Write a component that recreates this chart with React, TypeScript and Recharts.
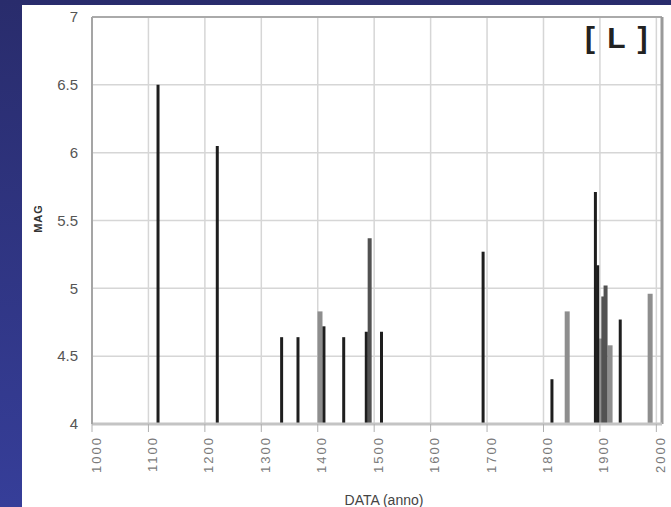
import React from 'react';
import { ComposedChart, Line, XAxis, YAxis, CartesianGrid, ReferenceLine } from 'recharts';

// events: year, magnitude, shade of the stick
const years = [1117, 1222, 1336, 1365, 1404, 1411, 1446, 1486, 1492, 1513, 1693, 1815, 1842, 1892, 1896, 1901, 1906, 1910, 1918, 1936, 1989];
const mags = [6.5, 6.05, 4.64, 4.64, 4.83, 4.72, 4.64, 4.68, 5.37, 4.68, 5.27, 4.33, 4.83, 5.71, 5.17, 4.63, 4.94, 5.02, 4.58, 4.77, 4.96];
const tones = ['k', 'k', 'k', 'k', 'g', 'k', 'k', 'k', 'd', 'k', 'k', 'k', 'g', 'k', 'k', 'g', 'd', 'd', 'g', 'k', 'g'];

const yearTicks = [1000, 1100, 1200, 1300, 1400, 1500, 1600, 1700, 1800, 1900, 2000];
const magTicks = [4, 4.5, 5, 5.5, 6, 6.5, 7];

const TONE: Record<string, { stroke: string; width: number }> = {
  g: { stroke: '#8e8e8e', width: 5 },
  d: { stroke: '#525252', width: 4 },
  k: { stroke: '#1e1e1e', width: 3 },
};

const order = ['g', 'd', 'k'];
const events = years
  .map((year, i) => ({ year, mag: mags[i], tone: tones[i] }))
  .sort((a, b) => order.indexOf(a.tone) - order.indexOf(b.tone));

const XTick = (props: any) => {
  const { x, y, payload } = props;
  return (
    <text
      x={0}
      y={0}
      transform={`translate(${x + 4},${y}) rotate(-90)`}
      textAnchor="end"
      dominantBaseline="central"
      fontSize={13}
      letterSpacing={2}
      fill="#7a7a7a"
    >
      {payload.value}
    </text>
  );
};

const MagLabel = (props: any) => {
  const vb = props.viewBox || { y: 17, height: 407 };
  return (
    <text
      x={0}
      y={0}
      transform={`translate(38,${vb.y + vb.height / 2 - 2}) rotate(-90)`}
      textAnchor="middle"
      dominantBaseline="central"
      fontSize={11}
      fontWeight="bold"
      letterSpacing={1}
      fill="#333"
    >
      MAG
    </text>
  );
};

const DataLabel = (props: any) => {
  const vb = props.viewBox || { x: 92, y: 424, width: 570 };
  return (
    <text
      x={vb.x + vb.width / 2 + 7}
      y={vb.y + 76}
      textAnchor="middle"
      dominantBaseline="central"
      fontSize={14}
      fill="#444"
    >
      DATA (anno)
    </text>
  );
};

export default function App() {
  return (
    <div
      style={{
        position: 'absolute',
        left: 0,
        top: 0,
        width: 671,
        height: 507,
        background: 'linear-gradient(180deg, #292c6c 0%, #363e99 100%)',
        fontFamily: '"Liberation Sans", Arial, sans-serif',
        overflow: 'hidden',
      }}
    >
      <div style={{ position: 'absolute', left: 22, top: 5, right: 0, bottom: 0, background: '#fff' }} />
      <div style={{ position: 'absolute', left: 0, top: 0 }}>
        <ComposedChart width={671} height={507} margin={{ top: 17, right: 9, left: 0, bottom: 0 }}>
          <CartesianGrid stroke="#d6d6d6" strokeWidth={1.5} />
          <XAxis
            dataKey="year"
            type="number"
            domain={[1000, 2010]}
            ticks={yearTicks}
            interval={0}
            allowDataOverflow
            height={83}
            tick={<XTick />}
            tickSize={8}
            tickMargin={4}
            tickLine={{ stroke: '#b0b0b0' }}
            axisLine={{ stroke: '#c4c4c4', strokeWidth: 3 }}
            label={<DataLabel />}
          />
          <YAxis
            type="number"
            domain={[4, 7]}
            ticks={magTicks}
            interval={0}
            allowDataOverflow
            width={92}
            tickSize={0}
            tickMargin={14}
            tickLine={false}
            tick={{ fill: '#555', fontSize: 15 }}
            axisLine={{ stroke: '#a5a5a5', strokeWidth: 2 }}
            label={<MagLabel />}
          />
          <ReferenceLine y={7} stroke="#aaaaaa" strokeWidth={2} />
          <ReferenceLine x={2010} stroke="#9a9a9a" strokeWidth={3} />
          {events.map((e, i) => (
            <Line
              key={i}
              data={[
                { year: e.year, mag: 4 },
                { year: e.year, mag: e.mag },
              ]}
              dataKey="mag"
              stroke={TONE[e.tone].stroke}
              strokeWidth={TONE[e.tone].width}
              dot={false}
              activeDot={false}
              isAnimationActive={false}
            />
          ))}
        </ComposedChart>
      </div>
      <div
        style={{
          position: 'absolute',
          left: 585,
          top: 23,
          fontSize: 30,
          lineHeight: '30px',
          fontWeight: 'bold',
          letterSpacing: 2,
          color: '#222',
          whiteSpace: 'pre',
        }}
      >
        [ L ]
      </div>
    </div>
  );
}
